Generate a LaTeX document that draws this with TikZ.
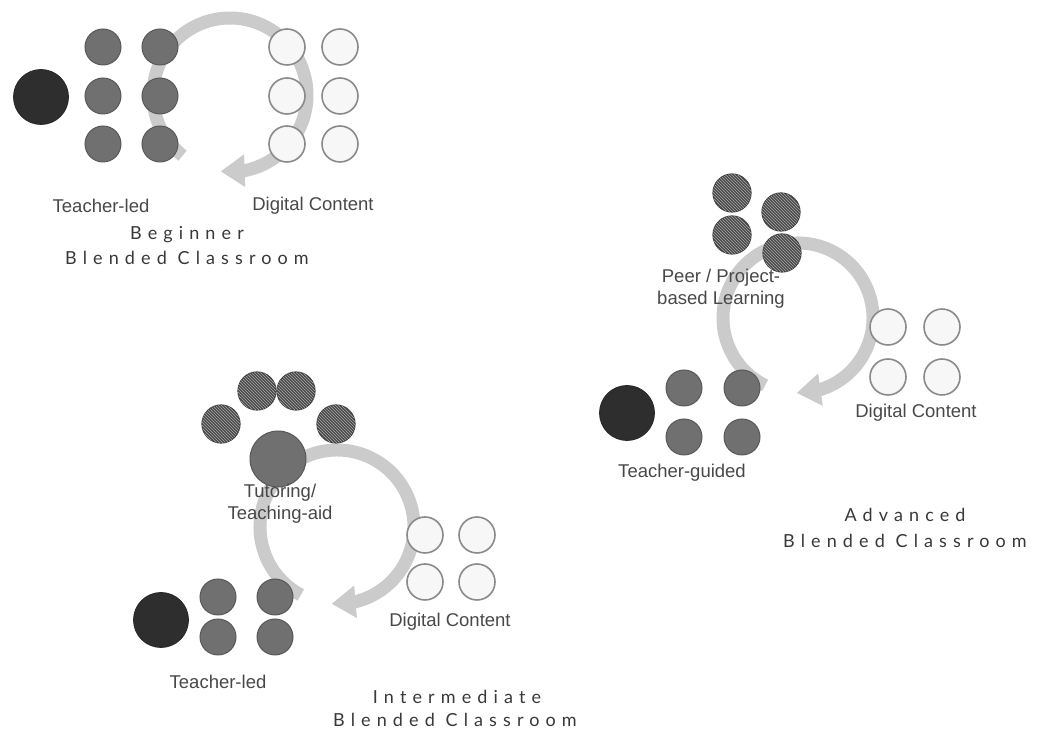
\documentclass[tikz,border=0pt]{standalone}
\usepackage{fontspec}
\setmainfont{Liberation Sans}
\newfontfamily\titlefont[LetterSpace=34]{Lato}
\usetikzlibrary{arrows.meta,bending,patterns}

\definecolor{teacherfill}{HTML}{2E2E2E}
\definecolor{learnerfill}{HTML}{707070}
\definecolor{learnerrim}{HTML}{585858}
\definecolor{digitalfill}{HTML}{F7F7F7}
\definecolor{digitalrim}{HTML}{8A8A8A}
\definecolor{peerfill}{HTML}{4A4A4A}
\definecolor{peerline}{HTML}{A8A8A8}
\definecolor{cyclecol}{HTML}{CBCBCB}
\definecolor{labelcol}{HTML}{484848}
\definecolor{titlecol}{HTML}{383838}

\tikzset{
  teacher/.style={circle, fill=teacherfill, draw=black!85, line width=0.8pt, minimum size=55pt, inner sep=0pt},
  learner/.style={circle, fill=learnerfill, draw=learnerrim, line width=1pt, minimum size=36pt, inner sep=0pt},
  tutor/.style={circle, fill=learnerfill, draw=learnerrim, line width=1pt, minimum size=56pt, inner sep=0pt},
  digital/.style={circle, fill=digitalfill, draw=digitalrim, line width=1.6pt, minimum size=36pt, inner sep=0pt},
  peer/.style={circle, fill=peerfill, draw=black!75, line width=1.2pt, minimum size=38pt, inner sep=0pt,
    postaction={pattern=north west lines, pattern color=peerline}},
  cycle/.style={draw=cyclecol, line width=13pt, -{Triangle[width=31pt,length=24pt,flex]}},
  lbl/.style={text=labelcol, font=\fontsize{18.5}{22}\selectfont, align=center, inner sep=0pt},
  ttl/.style={text=titlecol, font=\titlefont\fontsize{18}{20}\selectfont, inner sep=0pt},
}

\begin{document}
\begin{tikzpicture}[x=1pt, y=1pt]
\useasboundingbox (0,0) rectangle (1037,733);

% ---------- Beginner ----------
\coordinate (bc) at (230,638);
\draw[cycle] ([shift={(232:77)}]bc) arc[start angle=232, end angle=-97, radius=77];
\node[teacher] (bt) at (41,636) {};
\foreach \i/\x in {1/103,2/160}{
  \foreach \j/\y in {1/686,2/637,3/589}{
    \node[learner] (bl\i\j) at (\x,\y) {};
  }
}
\foreach \i/\x in {1/287,2/340}{
  \foreach \j/\y in {1/686,2/637,3/589}{
    \node[digital] (bd\i\j) at (\x,\y) {};
  }
}
\node[lbl] (blab1) at (101,527) {Teacher-led};
\node[lbl] (blab2) at (313,527) {Digital Content};
\node[ttl] (bt1) at (187,498) {Beginner};
\node[ttl] (bt2) at (187,475) {Blended Classroom};

% ---------- Intermediate ----------
\coordinate (ic) at (337,206);
\draw[cycle] ([shift={(242:77)}]ic) arc[start angle=242, end angle=-94, radius=77];
\node[peer] (ip1) at (221,309) {};
\node[peer] (ip2) at (257,342) {};
\node[peer] (ip3) at (296,342) {};
\node[peer] (ip4) at (336,309) {};
\node[tutor] (it) at (278,274) {};
\node[lbl] (ilab0) at (280,229) {Tutoring/\\Teaching-aid};
\node[digital] (id11) at (425,198) {};
\node[digital] (id21) at (477,198) {};
\node[digital] (id12) at (425,151) {};
\node[digital] (id22) at (477,151) {};
\node[teacher] (itc) at (161,113) {};
\node[learner] (il11) at (218,136) {};
\node[learner] (il21) at (275,136) {};
\node[learner] (il12) at (218,96) {};
\node[learner] (il22) at (275,96) {};
\node[lbl] (ilab1) at (218,51) {Teacher-led};
\node[lbl] (ilab2) at (450,111) {Digital Content};
\node[ttl] (it1) at (457,36) {Intermediate};
\node[ttl] (it2) at (455,13) {Blended Classroom};

% ---------- Advanced ----------
\coordinate (ac) at (798,415);
\draw[cycle] ([shift={(244:75)}]ac) arc[start angle=244, end angle=-91, radius=75];
\node[peer] (ap1) at (732,540) {};
\node[peer] (ap2) at (781,521) {};
\node[peer] (ap3) at (732,498) {};
\node[peer] (ap4) at (782,480) {};
\node[lbl] (alab0) at (721,444) {Peer / Project-\\based Learning};
\node[digital] (ad11) at (888,406) {};
\node[digital] (ad21) at (942,406) {};
\node[digital] (ad12) at (888,356) {};
\node[digital] (ad22) at (942,356) {};
\node[teacher] (atc) at (627,320) {};
\node[learner] (al11) at (684,345) {};
\node[learner] (al21) at (742,345) {};
\node[learner] (al12) at (684,296) {};
\node[learner] (al22) at (742,296) {};
\node[lbl] (alab1) at (682,260) {Teacher-guided};
\node[lbl] (alab2) at (916,320) {Digital Content};
\node[ttl] (at1) at (905,218) {Advanced};
\node[ttl] (at2) at (905,192) {Blended Classroom};
\end{tikzpicture}
\end{document}
